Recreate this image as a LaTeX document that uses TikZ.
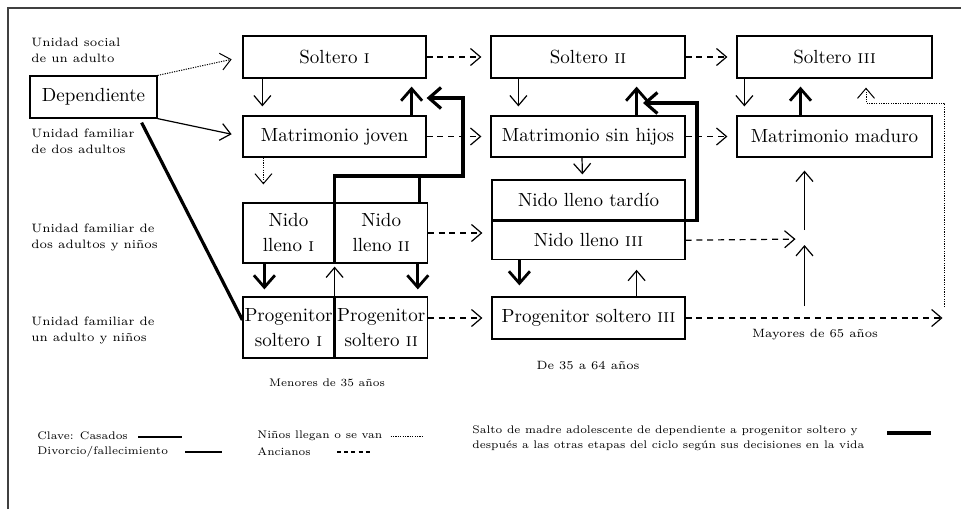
\documentclass[tikz,border=0pt]{standalone}
\usepackage{fontspec}
\usetikzlibrary{arrows.meta}
\usetikzlibrary{positioning}
\tikzset{>={Straight Barb[length=5pt,width=8.5pt]}}

\begin{document}
\begin{tikzpicture}[x=0.5pt,y=-0.5pt,
  box/.style={draw,line width=0.6pt,inner sep=0.5pt,align=center,font=\fontsize{9.5}{12.5}\selectfont},
  rowlab/.style={anchor=west,align=left,inner sep=0pt,font=\fontsize{6.1}{8}\selectfont},
  agelab/.style={inner sep=0pt,font=\fontsize{6}{8}\selectfont},
  keylab/.style={anchor=west,align=left,inner sep=0pt,font=\fontsize{5.5}{7.5}\selectfont},
  thinarr/.style={line width=0.6pt,->},
  thickarr/.style={line width=1.4pt,-{Straight Barb[length=6pt,width=10.5pt]}},
  kids/.style={line width=0.5pt,dash pattern=on 0.6pt off 0.6pt,->},
  old/.style={line width=0.6pt,dash pattern=on 3pt off 2.4pt,->,shorten >=4.5pt},
  teen/.style={line width=1.6pt}]

  \useasboundingbox (0,0) rectangle (961,509);
  \draw[line width=0.8pt,black!75] (8,509) -- (8,8) -- (961,8);

  % row labels
  \node[rowlab] (lsocial) at (31,50) {Unidad social\\de un adulto};
  \node[rowlab] (ldos) at (31,141) {Unidad familiar\\de dos adultos};
  \node[rowlab] (ldosn) at (31,237) {Unidad familiar de\\dos adultos y ni\~nos};
  \node[rowlab] (lunon) at (31,330) {Unidad familiar de\\un adulto y ni\~nos};

  % stages
  \node[box,minimum width=63.5pt,minimum height=21pt] (dep) at (93.5,97) {Dependiente};

  \node[box,minimum width=91.5pt,minimum height=21pt] (s1) at (334.5,57) {Soltero \textsc{i}};
  \node[box,minimum width=91.5pt,minimum height=20.5pt] (mj) at (334.5,136.5) {Matrimonio joven};
  \node[box,minimum width=45.5pt,minimum height=30pt] (n1) at (288.5,233) {Nido\\lleno \textsc{i}};
  \node[box,minimum width=46pt,minimum height=30pt,right=0pt of n1] (n2) {Nido\\lleno \textsc{ii}};
  \node[box,minimum width=45.5pt,minimum height=30.5pt] (p1) at (288.5,327.5) {Progenitor\\soltero \textsc{i}};
  \node[box,minimum width=46pt,minimum height=30.5pt,right=0pt of p1] (p2) {Progenitor\\soltero \textsc{ii}};

  \node[box,minimum width=97pt,minimum height=21pt] (s2) at (588,57) {Soltero \textsc{ii}};
  \node[box,minimum width=97pt,minimum height=20.5pt] (msh) at (588,136.5) {Matrimonio sin hijos};
  \node[box,minimum width=96.5pt,minimum height=20pt] (nt) at (588.5,200) {Nido lleno tard\'{\i}o};
  \node[box,minimum width=96.5pt,minimum height=19pt,below=0pt of nt] (n3) {Nido lleno \textsc{iii}};
  \node[box,minimum width=96.5pt,minimum height=21pt] (p3) at (588.5,318) {Progenitor soltero \textsc{iii}};

  \node[box,minimum width=97.5pt,minimum height=21pt] (s3) at (834.5,57) {Soltero \textsc{iii}};
  \node[box,minimum width=97.5pt,minimum height=20.5pt] (mm) at (834.5,136.5) {Matrimonio maduro};

  % age groups
  \node[agelab,font=\fontsize{5.5}{8}\selectfont] (amen) at (327,383) {Menores de 35 a\~nos};
  \node[agelab] (amed) at (588,366) {De 35 a 64 a\~nos};
  \node[agelab] (amay) at (815,335) {Mayores de 65 a\~nos};

  % from dependiente
  \draw[kids,shorten >=5.5pt] (dep.north east) -- (s1.west);
  \draw[thinarr,shorten >=5.5pt] (dep.south east) -- (mj.west);
  \draw[teen] ([xshift=-8pt,yshift=-2pt]dep.south east) -- ([yshift=3.75pt]p1.west);

  % first column
  \draw[thinarr,shorten >=4.5pt] ([xshift=10pt]s1.south west) -- ([xshift=10pt]mj.north west);
  \draw[thickarr,shorten >=4pt] ([xshift=-7.5pt]mj.north east) -- ([xshift=-7.5pt]s1.south east);
  \draw[kids,shorten >=9pt] ([xshift=10.5pt]mj.south west) -- ([xshift=10.5pt]n1.north west);
  \draw[thickarr,shorten >=3.5pt] ([xshift=11pt]n1.south west) -- ([xshift=11pt]p1.north west);
  \draw[thickarr,shorten >=3.5pt] ([xshift=-5pt]n2.south east) -- ([xshift=-5pt]p2.north east);
  \draw[thinarr,shorten >=1.5pt] (p1.north east) -- (n1.south east);

  \coordinate (ta) at (463,176);
  \coordinate (tb) at (463,98);
  \coordinate (tn) at ([xshift=-4pt]n2.north east);
  \draw[teen,-{Straight Barb[length=6pt,width=10.5pt]}] (n1.north east) |- (ta) -- (tb) -- (s1.east |- tb);
  \draw[teen] (tn) -- (tn |- ta);

  % second column
  \draw[thinarr,shorten >=4.5pt] ([xshift=14pt]s2.south west) -- ([xshift=14pt]msh.north west);
  \draw[thickarr,shorten >=4pt] ([xshift=-24.5pt]msh.north east) -- ([xshift=-24.5pt]s2.south east);
  \draw[thinarr,shorten >=2.5pt] ([xshift=-3pt]msh.south) -- ([xshift=-3pt]nt.north);
  \draw[thickarr,shorten >=5.5pt] ([xshift=14pt]n3.south west) -- ([xshift=14pt]p3.north west);
  \draw[thinarr,shorten >=5pt] ([xshift=-24.5pt]p3.north east) -- ([xshift=-24.5pt]n3.south east);

  \coordinate (tc) at (697,103);
  \coordinate (td) at (643,103);
  \draw[teen,-{Straight Barb[length=6pt,width=10.5pt]}] (n3.north east) -| (tc) -- (td);

  % third column
  \draw[thinarr,shorten >=4.5pt] ([xshift=4pt]s3.south west) -- ([xshift=4pt]mm.north west);
  \draw[thickarr,shorten >=4pt] ([xshift=-17pt]mm.north) -- ([xshift=-17pt]s3.south);

  % ageing
  \draw[old] (s1.east) -- (s2.west);
  \draw[old] (mj.east) -- (msh.west);
  \draw[old] (n2.east) -- (n2.east -| n3.west);
  \draw[old] (p2.east |- p3.west) -- (p3.west);
  \draw[old] (s2.east) -- (s3.west);
  \draw[old] (msh.east) -- (mm.west);

  \coordinate (ja) at (804.5,239);
  \coordinate (jb) at (804.5,306);
  \draw[old] (n3.east) -- (ja);
  \draw[thinarr,shorten >=6.5pt] ([yshift=4.5pt]ja) -- (mm.south -| ja);
  \draw[thinarr,shorten >=3pt] (jb) -- (ja);

  \coordinate (ka) at (944.5,307);
  \coordinate (kb) at (866,103);
  \draw[old,shorten >=1pt] (p3.east) -- (p3.east -| ka);
  \draw[kids,shorten >=4.5pt] (ka) |- (kb) -- (kb |- s3.south);

  % key
  \node[keylab] (kcas) at (37,436) {Clave: Casados};
  \node[keylab] (kdiv) at (37,452) {Divorcio/fallecimiento};
  \node[keylab] (knin) at (257,436) {Ni\~nos llegan o se van};
  \node[keylab] (kanc) at (257,452) {Ancianos};
  \node[keylab] (ksal) at (472,438) {Salto de madre adolescente de dependiente a progenitor soltero y\\despu\'es a las otras etapas del ciclo seg\'un sus decisiones en la vida};

  \draw[line width=1.1pt] (138,437) -- (182,437);
  \draw[line width=0.6pt] (185,452) -- (222,452);
  \draw[line width=0.5pt,dash pattern=on 0.6pt off 0.6pt] ([xshift=4pt]knin.east) -- ++(32,0);
  \draw[line width=0.6pt,dash pattern=on 2pt off 1.6pt] (337,452) -- (372,452);
  \draw[teen] (887,433) -- (931,433);

\end{tikzpicture}
\end{document}
